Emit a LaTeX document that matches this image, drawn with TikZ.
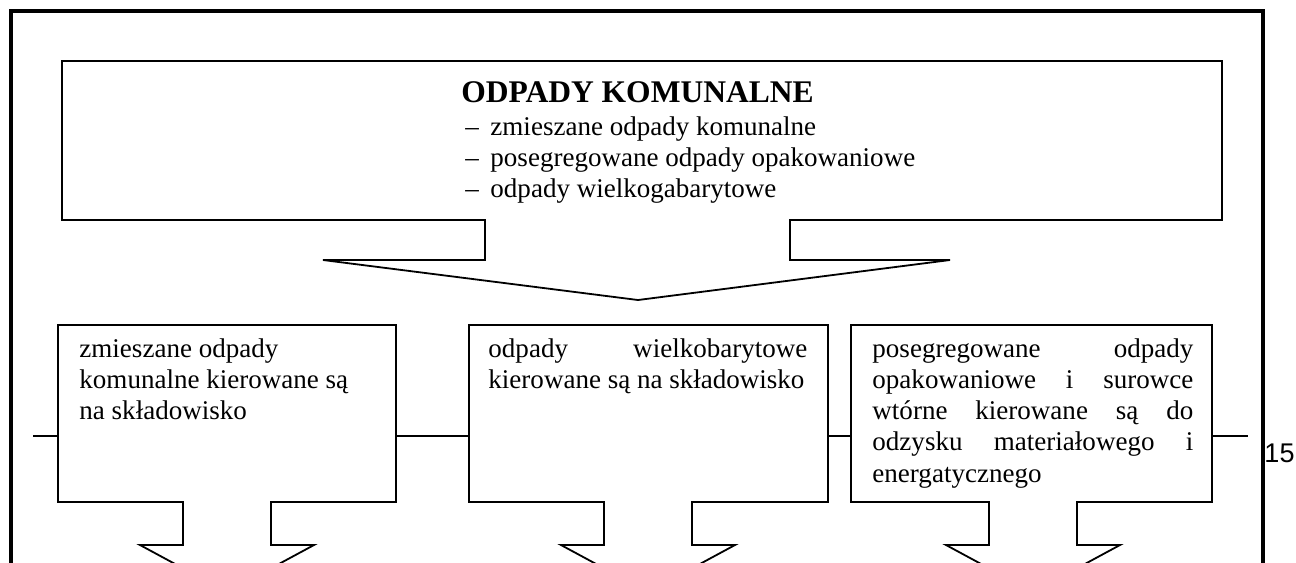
\documentclass[tikz,border=0pt]{standalone}
\usepackage{fontspec}
\setmainfont{Liberation Serif}
\newfontfamily\pagenumfont{Liberation Sans}
\newcommand{\jline}[2]{\makebox[#1][l]{#2}}
\begin{document}
\begin{tikzpicture}[x=0.444pt,y=-0.444pt,
  boxline/.style={draw=black,line width=0.8pt,line join=miter},
  frameline/.style={draw=black,line width=1.8pt},
  conn/.style={draw=black,line width=0.8pt},
  txt/.style={anchor=base west,inner sep=0pt,font=\fontsize{12pt}{13.9pt}\selectfont},
]
\useasboundingbox (0,0) rectangle (1296,562);
\clip (0,0) rectangle (1296,562);
% outer frame
\draw[frameline] (11,600) -- (11,11) -- (1263,11) -- (1263,600);
% top box with downward arrow
\draw[boxline] (62,61) -- (1222,61) -- (1222,220) -- (790,220) -- (790,260) -- (950,260)
  -- (638,300) -- (323,260) -- (485,260) -- (485,220) -- (62,220) -- cycle;
\node[anchor=base,inner sep=0pt,font=\fontsize{14pt}{16pt}\selectfont\bfseries] (title) at (637.5,102) {ODPADY KOMUNALNE};
\node[txt] (l1) at (465,135) {\makebox[11.1pt][l]{–}zmieszane odpady komunalne};
\node[txt] (l2) at (465,166) {\makebox[11.1pt][l]{–}posegregowane odpady opakowaniowe};
\node[txt] (l3) at (465,197) {\makebox[11.1pt][l]{–}odpady wielkogabarytowe};
% lower boxes
\foreach \L/\R/\c/\n in {58/396/227/1, 469/828/648/2, 851/1212/1033/3}{
  \draw[boxline] (\L,325) -- (\R,325) -- (\R,502) -- (\c+44,502) -- (\c+44,545) -- (\c+87,545)
    -- (\c,592) -- (\c-87,545) -- (\c-44,545) -- (\c-44,502) -- (\L,502) -- cycle;
  \coordinate (b\n w) at (\L,436);
  \coordinate (b\n e) at (\R,436);
}
\coordinate (lstart) at (33,436);
\coordinate (lend) at (1248,436);
\draw[conn] (lstart) -- (b1w);
\draw[conn] (b1e) -- (b2w);
\draw[conn] (b2e) -- (b3w);
\draw[conn] (b3e) -- (lend);
% box texts
\node[txt] (t1) at (79,357) {\parbox[t]{133pt}{zmieszane odpady\\ komunalne kierowane są\\ na składowisko}};
\node[txt] (t2) at (488,357) {\parbox[t]{141.6pt}{\jline{141.6pt}{odpady\hfill wielkobarytowe}\\ kierowane są na składowisko}};
\node[txt] (t3) at (872,357) {\parbox[t]{142.5pt}{%
  \jline{142.5pt}{posegregowane\hfill odpady}\\
  \jline{142.5pt}{opakowaniowe\hfill i\hfill surowce}\\
  \jline{142.5pt}{wtórne\hfill kierowane\hfill są\hfill do}\\
  \jline{142.5pt}{odzysku\hfill materiałowego\hfill i}\\
  energatycznego}};
\node[anchor=base west,inner sep=0pt,font=\pagenumfont\fontsize{12pt}{14pt}\selectfont] (pn) at (1264,462) {15};
\end{tikzpicture}
\end{document}
